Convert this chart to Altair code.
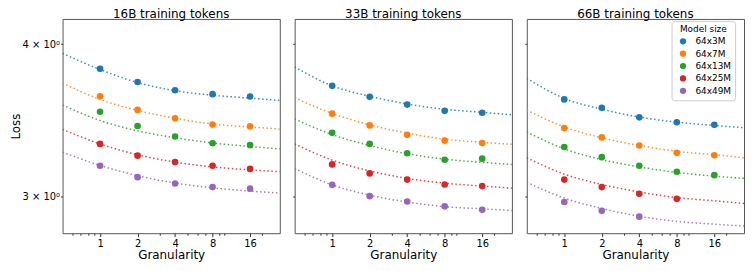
import altair as alt
import pandas as pd

granularity = [1, 2, 4, 8, 16]
fit_x = [0.5, 1, 2, 4, 8, 16, 27.7]
models = ["64x3M", "64x7M", "64x13M", "64x25M", "64x49M"]
colors = ["#1f77b4", "#ff7f0e", "#2ca02c", "#d62728", "#9467bd"]
titles = ["16B training tokens", "33B training tokens", "66B training tokens"]

points_16B = [
    [3.818, 3.724, 3.666, 3.639, 3.623],
    [3.625, 3.532, 3.477, 3.436, 3.424],
    [3.520, 3.426, 3.359, 3.316, 3.304],
    [3.312, 3.239, 3.200, 3.178, 3.159],
    [3.178, 3.110, 3.073, 3.052, 3.043],
]
fit_16B = [
    [3.931, 3.813, 3.720, 3.663, 3.632, 3.612, 3.596],
    [3.716, 3.603, 3.529, 3.477, 3.439, 3.420, 3.407],
    [3.565, 3.462, 3.395, 3.351, 3.318, 3.296, 3.281],
    [3.405, 3.312, 3.245, 3.200, 3.171, 3.153, 3.142],
    [3.261, 3.180, 3.119, 3.076, 3.048, 3.029, 3.018],
]
points_33B = [
    [3.697, 3.621, 3.568, 3.526, 3.513],
    [3.507, 3.430, 3.370, 3.333, 3.318],
    [3.382, 3.312, 3.254, 3.214, 3.221],
    [3.186, 3.132, 3.096, 3.067, 3.058],
    [3.065, 3.000, 2.970, 2.943, 2.924],
]
fit_33B = [
    [3.831, 3.697, 3.625, 3.572, 3.537, 3.516, 3.500],
    [3.614, 3.509, 3.434, 3.380, 3.342, 3.322, 3.310],
    [3.472, 3.371, 3.302, 3.251, 3.218, 3.198, 3.186],
    [3.312, 3.212, 3.147, 3.103, 3.075, 3.058, 3.046],
    [3.161, 3.065, 3.006, 2.967, 2.941, 2.929, 2.920],
]
points_66B = [
    [3.603, 3.546, 3.483, 3.451, 3.434],
    [3.413, 3.353, 3.302, 3.257, 3.242],
    [3.293, 3.230, 3.178, 3.142, 3.122],
    [3.096, 3.052, 3.014, 2.985],
    [2.967, 2.918, 2.886],
]
fit_66B = [
    [3.750, 3.610, 3.537, 3.485, 3.451, 3.430, 3.415],
    [3.531, 3.420, 3.351, 3.302, 3.266, 3.245, 3.226],
    [3.388, 3.281, 3.215, 3.171, 3.138, 3.116, 3.103],
    [3.226, 3.128, 3.067, 3.024, 2.992, 2.974, 2.959],
    [3.080, 2.989, 2.931, 2.888, 2.860, 2.845, 2.835],
]

x_major = [1, 2, 4, 8, 16]
x_ticks = [0.6, 0.7, 0.8, 0.9, 1, 2, 3, 4, 5, 6, 7, 8, 9, 10, 16, 20]
y_ticks = [3, 4]
x_domain = [0.5, 27.7]
y_domain = [2.797, 4.196]

W, H = 219, 216
FONT = "DejaVu Sans"
major_test = " || ".join(f"datum.value == {v}" for v in x_major)

LEGEND = alt.Legend(
    title="Model size",
    orient="none",
    legendX=614,
    legendY=2,
    titleFontSize=9,
    titleFontWeight="normal",
    titleAnchor="middle",
    titleColor="black",
    titlePadding=3,
    labelFontSize=9,
    labelColor="black",
    labelOffset=8,
    symbolType="circle",
    symbolSize=40,
    symbolStrokeWidth=0,
    symbolOffset=3,
    rowPadding=2.5,
    padding=4,
    fillColor="white",
    strokeColor="#cccccc",
    cornerRadius=3,
)


def panel(title, pts, fits, first):
    prow = []
    for m, vals in zip(models, pts):
        for g, v in zip(granularity, vals):
            prow.append({"g": g, "loss": v, "model": m})
    pdf = pd.DataFrame(prow)

    xenc = alt.X(
        "g:Q",
        scale=alt.Scale(type="log", domain=x_domain, nice=False),
        axis=alt.Axis(
            values=x_ticks,
            title="Granularity",
            labelExpr=f"({major_test}) ? format(datum.value, 'd') : ''",
            tickSize={"condition": {"test": major_test, "value": 3.5}, "value": 2},
            labelOverlap=False,
            labelFlush=False,
            grid=False,
            domain=False,
            tickColor="#333",
            labelFontSize=10,
            labelPadding=2,
            titleFontSize=12,
            titleFontWeight="normal",
            titlePadding=1,
            labelColor="black",
            titleColor="black",
        ),
    )
    yaxis = alt.Axis(
        values=y_ticks,
        title="Loss" if first else None,
        labels=first,
        labelExpr="format(datum.value, 'd') + ' × 10⁰'",
        tickSize=2,
        grid=False,
        domain=False,
        tickColor="#333",
        labelFontSize=10,
        labelPadding=1,
        titleFontSize=12,
        titleFontWeight="normal",
        titlePadding=0,
        labelColor="black",
        titleColor="black",
    )
    yenc = alt.Y(
        "loss:Q",
        scale=alt.Scale(type="log", domain=y_domain, nice=False, zero=False),
        axis=yaxis,
    )

    layers = []
    for m, c, vals in zip(models, colors, fits):
        fdf = pd.DataFrame({"g": fit_x, "loss": vals})
        layers.append(
            alt.Chart(fdf)
            .mark_line(strokeDash=[1.5, 2.5], strokeWidth=1.5, interpolate="monotone",
                       opacity=0.85, clip=True, color=c)
            .encode(x=xenc, y=yenc)
        )
    dots = (
        alt.Chart(pdf)
        .mark_circle(size=45, opacity=1)
        .encode(
            x=xenc,
            y=yenc,
            color=alt.Color("model:N", scale=alt.Scale(domain=models, range=colors),
                            sort=models, legend=LEGEND),
        )
    )
    layers.append(dots)
    return alt.layer(*layers).properties(
        width=W,
        height=H,
        title=alt.TitleParams(title, fontSize=12, fontWeight="normal", color="black", offset=-2, font=FONT),
    )


p1 = panel(titles[0], points_16B, fit_16B, True)
p2 = panel(titles[1], points_33B, fit_33B, False)
p3 = panel(titles[2], points_66B, fit_66B, False)

chart = (
    alt.hconcat(p1, p2, p3, spacing=11)
    .properties(padding={"left": 0, "top": -2, "right": 0, "bottom": 0})
    .configure(font=FONT)
    .configure_view(stroke="#555555", strokeWidth=1)
)

chart.save("out.html", embed_options={"renderer": "svg", "actions": False})
